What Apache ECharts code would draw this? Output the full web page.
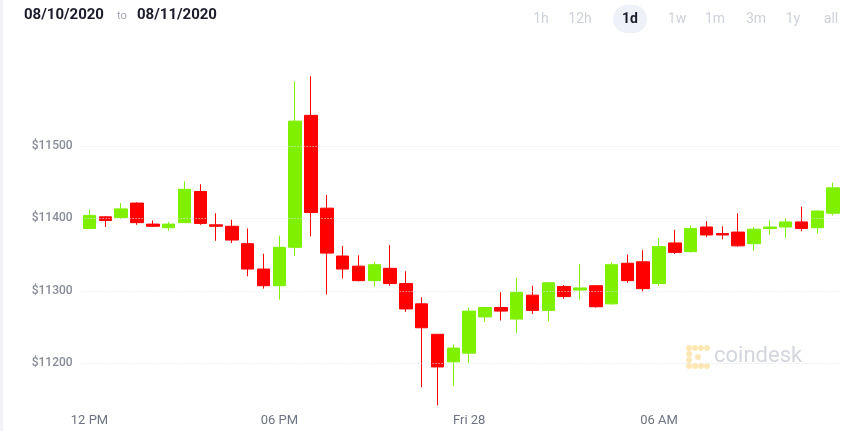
<html>
    <head>
        <meta charset="utf-8">
        <script src="https://cdn.jsdelivr.net/npm/echarts@6/dist/echarts.min.js"></script>
    </head>
    <body style="margin:0">
        <div id="main" style="width:860px;height:431px"></div>
        <script>
            // 30 minute candles, 12 PM -> next day
            var opens  = [11386,11402,11401,11421,11392,11387,11394,11437,11391,11389,11365,11330,11307,11360,11542,11414,11348,11334,11314,11331,11310,11282,11240,11202,11214,11264,11277,11261,11294,11273,11306,11301,11307,11282,11338,11340,11310,11366,11354,11388,11379,11381,11365,11386,11388,11395,11387,11407];
            var closes = [11404,11397,11413,11394,11389,11392,11440,11393,11389,11370,11330,11307,11360,11534,11408,11352,11330,11314,11336,11310,11275,11249,11195,11221,11272,11277,11272,11298,11273,11311,11292,11304,11278,11336,11314,11303,11361,11353,11386,11377,11377,11362,11385,11388,11395,11386,11410,11442];
            var highs  = [11412,11403,11421,11422,11397,11395,11451,11447,11407,11398,11386,11351,11376,11589,11596,11432,11362,11349,11340,11363,11327,11291,11240,11226,11277,11278,11298,11318,11307,11312,11308,11337,11308,11339,11350,11356,11373,11384,11390,11396,11389,11407,11388,11397,11400,11416,11411,11449];
            var lows   = [11385,11388,11399,11391,11388,11383,11394,11391,11369,11366,11320,11303,11288,11348,11375,11295,11317,11313,11306,11307,11271,11167,11142,11169,11200,11257,11259,11242,11268,11258,11289,11288,11277,11281,11311,11299,11307,11351,11353,11374,11371,11361,11355,11377,11373,11382,11379,11404];

            var yTicks = [11200, 11300, 11400, 11500];
            var xTickLabels = {0: '12 PM', 12: '06 PM', 24: 'Fri 28', 36: '06 AM'};
            var ranges = ['1h', '12h', '1d', '1w', '1m', '3m', '1y', 'all'];
            var rangeX = [541, 580, 630, 677, 715, 756, 793, 831];

            var categories = opens.map(function (v, i) { return i; });
            var candles = opens.map(function (o, i) { return [o, closes[i], lows[i], highs[i]]; });

            var chart = echarts.init(document.getElementById('main'));

            var header = [
                {type: 'rect', shape: {x: 0, y: 0, width: 3, height: 431}, style: {fill: '#f1f3f8'}},
                {type: 'text', left: 24, top: 8, style: {text: '08/10/2020', font: 'bold 15px Roboto', fill: '#1b1b2b'}},
                {type: 'text', left: 117, top: 11, style: {text: 'to', font: '11px Roboto', fill: '#a2a6b2'}},
                {type: 'text', left: 137, top: 8, style: {text: '08/11/2020', font: 'bold 15px Roboto', fill: '#1b1b2b'}},
                {type: 'rect', shape: {x: 613, y: 5, width: 34, height: 28, r: 14}, style: {fill: '#eef1f7'}}
            ];
            ranges.forEach(function (r, i) {
                var on = r === '1d';
                header.push({
                    type: 'text', x: rangeX[i], y: 19,
                    style: {text: r, font: (on ? 'bold ' : '') + '14px Roboto', fill: on ? '#1b1b2b' : '#cdd1db',
                            align: 'center', verticalAlign: 'middle'}
                });
            });

            // coindesk watermark
            [[0,0],[6,0],[12,0],[18,0],[0,6],[0,12],[0,18],[6,18],[12,18],[18,18],[9,9]].forEach(function (p) {
                header.push({type: 'circle', shape: {cx: 689 + p[0], cy: 348 + p[1], r: 3}, style: {fill: '#fde7b4'}});
            });
            header.push({type: 'text', left: 714, top: 345, style: {text: 'coindesk', font: '22px Roboto', fill: '#d3d6de'}});

            chart.setOption({
                animation: false,
                grid: {left: 81.6, right: 19, top: 73.3, bottom: 24.2},
                xAxis: {
                    type: 'category',
                    data: categories,
                    axisLine: {show: false},
                    axisTick: {show: false},
                    axisLabel: {
                        margin: 7,
                        color: '#6e7383',
                        fontSize: 13,
                        fontFamily: 'Roboto',
                        interval: 0,
                        formatter: function (v, i) { return xTickLabels[i] || ''; }
                    }
                },
                yAxis: {
                    type: 'value',
                    min: 11140,
                    max: 11600,
                    axisLine: {show: false},
                    axisTick: {show: false},
                    axisLabel: {
                        customValues: yTicks,
                        margin: 9,
                        color: '#878b98',
                        fontSize: 12,
                        fontWeight: 500,
                        fontFamily: 'Roboto',
                        formatter: function (v) { return '$' + v; }
                    },
                    splitLine: {show: false}
                },
                graphic: header,
                series: [{
                    type: 'candlestick',
                    data: candles,
                    barWidth: 13,
                    itemStyle: {
                        color: '#7ef000',
                        color0: '#ff0000',
                        borderColor: '#7ef000',
                        borderColor0: '#ff0000',
                        borderWidth: 1
                    },
                    // grid lines sit above the candles, as in the original
                    markLine: {
                        silent: true,
                        symbol: 'none',
                        label: {show: false},
                        lineStyle: {type: [1, 2], color: '#dfe3ee', width: 1},
                        data: yTicks.map(function (t) { return {yAxis: t}; })
                    }
                }]
            });
        </script>
    </body>
</html>
